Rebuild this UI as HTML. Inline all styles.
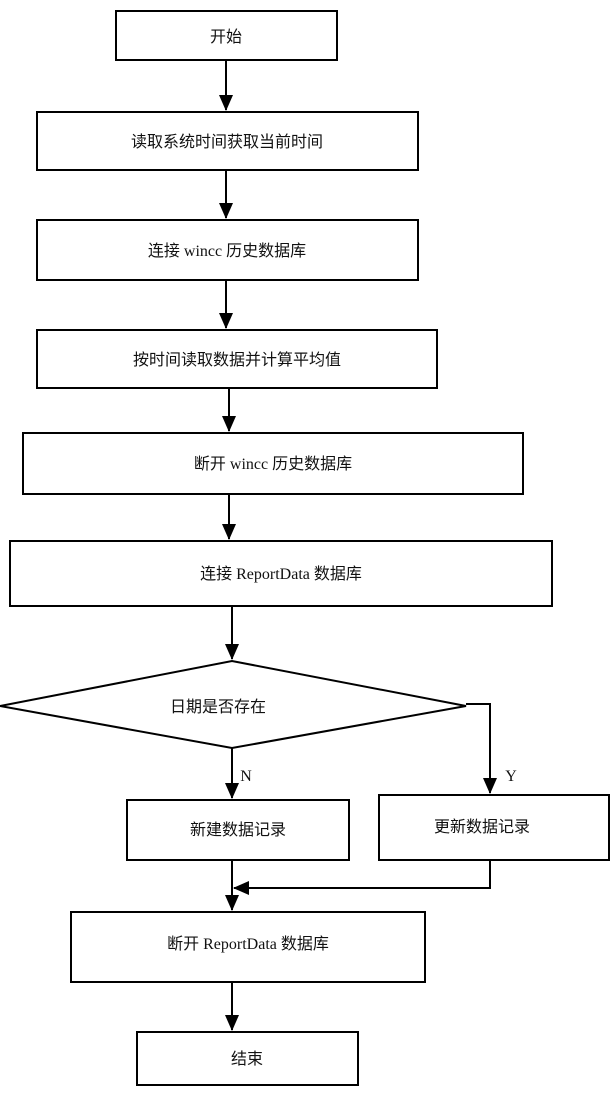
<!DOCTYPE html>
<html><head><meta charset="utf-8"><style>
body{margin:0;background:#fff;width:612px;height:1092px;overflow:hidden}
svg text{font-family:"Liberation Serif","Noto Sans CJK SC",serif;font-size:16px;fill:#111}
</style></head><body>
<svg width="612" height="1092" viewBox="0 0 612 1092" xmlns="http://www.w3.org/2000/svg">
<defs><marker id="a" markerWidth="10" markerHeight="10" refX="9" refY="5" orient="auto" markerUnits="userSpaceOnUse"><path d="M0,0 L10,5 L0,10 z" fill="#000"/></marker>
<marker id="b" markerWidth="16" markerHeight="14" refX="15" refY="7" orient="auto" markerUnits="userSpaceOnUse"><path d="M0,0 L16,7 L0,14 z" fill="#000"/></marker></defs>
<g fill="none" stroke="#000" stroke-width="2">
<rect x="116" y="11" width="221" height="49"/>
<rect x="37" y="112" width="381" height="58"/>
<rect x="37" y="220" width="381" height="60"/>
<rect x="37" y="330" width="400" height="58"/>
<rect x="23" y="433" width="500" height="61"/>
<rect x="10" y="541" width="542" height="65"/>
<polygon points="0,706 232,661 466,706 232,748"/>
<rect x="127" y="800" width="222" height="60"/>
<rect x="379" y="795" width="230" height="65"/>
<rect x="71" y="912" width="354" height="70"/>
<rect x="137" y="1032" width="221" height="53"/>
<g marker-end="url(#b)">
<line x1="226" y1="60" x2="226" y2="110"/>
<line x1="226" y1="170" x2="226" y2="218"/>
<line x1="226" y1="280" x2="226" y2="328"/>
<line x1="229" y1="388" x2="229" y2="431"/>
<line x1="229" y1="494" x2="229" y2="539"/>
<line x1="232" y1="606" x2="232" y2="659"/>
<line x1="232" y1="748" x2="232" y2="798"/>
<polyline points="466,704 490,704 490,793"/>
<line x1="232" y1="860" x2="232" y2="910"/>
<polyline points="490,860 490,888 234,888"/>
<line x1="232" y1="982" x2="232" y2="1030"/>
</g></g>
<g text-anchor="middle">
<text x="226" y="42">开始</text>
<text x="227" y="147">读取系统时间获取当前时间</text>
<text x="227" y="256">连接 wincc 历史数据库</text>
<text x="237" y="365">按时间读取数据并计算平均值</text>
<text x="273" y="469">断开 wincc 历史数据库</text>
<text x="281" y="579">连接 ReportData 数据库</text>
<text x="218" y="712">日期是否存在</text>
<text x="238" y="835">新建数据记录</text>
<text x="482" y="832">更新数据记录</text>
<text x="248" y="949">断开 ReportData 数据库</text>
<text x="247" y="1064">结束</text>
<text x="246" y="781">N</text>
<text x="511" y="781">Y</text>
</g>
</svg>
</body></html>
